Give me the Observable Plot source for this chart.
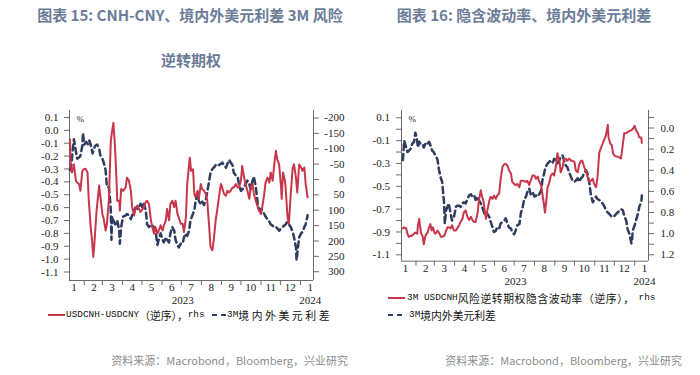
<!DOCTYPE html>
<html><head><meta charset="utf-8">
<script src="https://cdn.jsdelivr.net/npm/d3@7"></script>
<script src="https://cdn.jsdelivr.net/npm/@observablehq/plot@0.6"></script>
<style>
body{margin:0;background:#fff;width:700px;height:375px;position:relative;overflow:hidden;font-family:"Noto Sans CJK SC","Noto Sans",sans-serif}
.title{position:absolute;color:#6b7c98;font-weight:700;font-size:15px;line-height:20px;white-space:nowrap;transform:translateX(-50%)}
.plot{position:absolute}
.plot svg{font-family:"Liberation Serif","Times New Roman",serif;font-size:11px;color:#222;overflow:visible}
.legend{position:absolute;height:16px;line-height:16px;color:#111;white-space:nowrap;display:flex;align-items:center;font-family:"Liberation Mono","Noto Sans CJK SC",monospace;font-size:9.4px}
.legend svg{flex:none}
.cj{font-family:"Noto Sans CJK SC",sans-serif;font-size:10.8px}
.src{position:absolute;font-size:11px;line-height:16px;color:#8c8c8c;white-space:nowrap;transform:translateX(-100%)}
</style></head><body>
<div class="title" style="left:190px;top:5px">图表 15: CNH-CNY、境内外美元利差 3M 风险</div>
<div class="title" style="left:191px;top:50px">逆转期权</div>
<div class="title" style="left:524px;top:5px">图表 16: 隐含波动率、境内外美元利差</div>
<div id="c1" class="plot" style="left:0;top:100px"></div>
<div id="c2" class="plot" style="left:350px;top:100px"></div>

<div class="legend" style="left:48px;top:307px"><svg width="17" height="16"><line x1="0" x2="17" y1="8" y2="8" stroke="#c8364b" stroke-width="2"/></svg><span style="margin-left:1px">USDCNH-USDCNY</span><span class="cj">（逆序），</span><span>rhs</span></div>
<div class="legend" style="left:212px;top:307px"><svg width="14" height="16"><line x1="0" x2="14" y1="8" y2="8" stroke="#2e3d5e" stroke-width="2" stroke-dasharray="5,4"/></svg><span style="margin-left:1px">3M</span><span class="cj" style="letter-spacing:2.6px">境内外美元利差</span></div>

<div class="legend" style="left:388px;top:290px"><svg width="17" height="16"><line x1="0" x2="17" y1="8" y2="8" stroke="#c8364b" stroke-width="2"/></svg><span style="margin-left:2px">3M USDCNH</span><span class="cj" style="letter-spacing:0.6px">风险逆转期权隐含波动率（逆序），</span><span style="margin-left:4px">rhs</span></div>
<div class="legend" style="left:388px;top:307px"><svg width="16" height="16"><line x1="0" x2="16" y1="8" y2="8" stroke="#2e3d5e" stroke-width="2" stroke-dasharray="5,4"/></svg><span style="margin-left:5px">3M</span><span class="cj">境内外美元利差</span></div>

<div class="src" style="left:348px;top:352px">资料来源：Macrobond，Bloomberg，兴业研究</div>
<div class="src" style="left:682px;top:352px">资料来源：Macrobond，Bloomberg，兴业研究</div>

<script>
// ---------- data (x = days since 2023-01-01) ----------
const monthLabels = ["1","2","3","4","5","6","7","8","9","10","11","12","1"];
const yearLabels = ["2023","2024"];

// Chart 15: USDCNH-USDCNY (pips, reversed, rhs)
const cnhCnyPips = [[9,-130],[10,-39],[12,-23],[15,-49],[18,4],[20,10],[23,15],[25,37],[28,-28],[30,-33],[33,-35],[36,-23],[38,69],[41,155],[43,198],[45,252],[47,198],[50,101],[54,20],[56,58],[59,112],[61,128],[64,166],[66,144],[69,69],[72,-125],[74,-157],[76,-184],[78,-125],[80,-39],[82,69],[85,69],[86,101],[88,31],[91,37],[95,26],[97,-6],[100,4],[103,37],[105,90],[108,117],[110,96],[113,85],[118,106],[123,90],[126,74],[128,69],[131,80],[134,133],[136,155],[139,176],[141,155],[144,176],[146,166],[149,149],[152,166],[154,149],[157,133],[159,96],[162,133],[164,80],[167,69],[170,90],[172,69],[175,112],[177,123],[180,144],[183,144],[185,171],[188,123],[190,15],[192,-28],[194,-71],[196,-28],[199,-33],[201,47],[203,58],[206,37],[208,63],[211,15],[213,31],[216,37],[219,47],[221,69],[224,155],[226,219],[229,230],[231,198],[234,133],[237,90],[239,58],[242,15],[244,26],[247,47],[250,53],[252,37],[255,42],[257,37],[260,26],[262,26],[265,15],[268,26],[270,26],[273,4],[275,-44],[278,-6],[280,15],[283,37],[286,63],[288,26],[291,15],[293,47],[296,69],[299,90],[301,101],[304,112],[306,90],[309,47],[311,10],[314,-6],[317,10],[319,-23],[322,4],[324,-39],[327,-93],[329,-66],[332,-49],[335,26],[336,63],[338,-23],[341,4],[342,26],[345,123],[347,144],[350,47],[353,-39],[355,-49],[358,-6],[360,42],[363,-49],[366,-39],[368,-28],[371,-39],[373,15],[376,58]];

// Chart 15: 3M onshore-offshore USD rate spread (%, lhs)
const rateSpread1 = [[9,-0.31],[11,-0.27],[12,-0.22],[14,-0.11],[15,-0.07],[18,-0.16],[20,-0.22],[23,-0.21],[25,-0.20],[28,-0.12],[29,-0.02],[31,-0.11],[34,-0.09],[37,-0.11],[39,-0.08],[42,-0.13],[44,-0.18],[46,-0.14],[48,-0.12],[51,-0.11],[54,-0.14],[56,-0.20],[59,-0.22],[61,-0.25],[64,-0.31],[66,-0.44],[69,-0.44],[71,-0.55],[72,-0.62],[73,-0.85],[74,-0.67],[77,-0.71],[79,-0.73],[82,-0.70],[85,-0.78],[86,-0.88],[88,-0.75],[91,-0.67],[95,-0.66],[97,-0.65],[100,-0.66],[103,-0.69],[105,-0.66],[108,-0.62],[110,-0.60],[113,-0.61],[115,-0.60],[118,-0.57],[121,-0.60],[123,-0.57],[126,-0.62],[128,-0.73],[131,-0.75],[134,-0.73],[136,-0.74],[139,-0.75],[141,-0.78],[144,-0.89],[146,-0.85],[149,-0.80],[152,-0.85],[154,-0.87],[157,-0.83],[159,-0.85],[162,-0.87],[164,-0.80],[167,-0.75],[170,-0.78],[172,-0.85],[175,-0.89],[177,-0.91],[180,-0.88],[183,-0.88],[185,-0.83],[188,-0.80],[190,-0.82],[193,-0.78],[195,-0.70],[198,-0.66],[201,-0.62],[203,-0.55],[206,-0.49],[208,-0.55],[211,-0.57],[213,-0.55],[216,-0.58],[219,-0.53],[221,-0.48],[224,-0.39],[226,-0.33],[229,-0.30],[231,-0.29],[234,-0.27],[237,-0.26],[239,-0.27],[242,-0.26],[244,-0.25],[247,-0.27],[250,-0.29],[252,-0.26],[255,-0.23],[257,-0.25],[260,-0.27],[262,-0.33],[265,-0.35],[268,-0.36],[270,-0.42],[273,-0.47],[275,-0.46],[278,-0.44],[280,-0.42],[283,-0.39],[286,-0.42],[288,-0.46],[291,-0.39],[293,-0.36],[296,-0.44],[299,-0.57],[301,-0.62],[304,-0.61],[306,-0.62],[309,-0.65],[311,-0.67],[314,-0.69],[317,-0.71],[319,-0.73],[322,-0.74],[324,-0.75],[327,-0.75],[329,-0.76],[332,-0.78],[335,-0.76],[337,-0.75],[340,-0.74],[342,-0.73],[345,-0.71],[347,-0.73],[350,-0.75],[353,-0.79],[355,-0.83],[358,-0.91],[359,-1.01],[360,-0.96],[363,-0.83],[366,-0.80],[368,-0.79],[371,-0.75],[373,-0.73],[376,-0.66]];

// Chart 16: 3M USDCNH risk-reversal implied vol (reversed, rhs)
const rrVol = [[11,0.95],[13,0.94],[16,0.95],[18,1.00],[20,1.03],[23,1.02],[25,1.02],[28,1.00],[30,0.99],[33,1.00],[34,0.92],[36,0.86],[37,0.92],[39,1.00],[41,1.02],[43,1.10],[45,1.03],[47,1.00],[49,0.99],[51,0.94],[53,0.91],[55,0.97],[57,0.94],[59,0.99],[61,1.00],[64,0.97],[66,0.99],[69,1.03],[71,1.03],[74,1.02],[76,0.99],[79,0.94],[81,0.94],[84,0.95],[86,0.92],[89,0.97],[92,0.97],[94,0.95],[97,0.92],[99,0.89],[102,0.86],[104,0.80],[107,0.78],[109,0.83],[112,0.87],[115,0.84],[117,0.87],[120,0.89],[122,0.89],[125,0.81],[127,0.69],[130,0.59],[132,0.65],[134,0.69],[136,0.78],[138,0.86],[140,0.78],[143,0.69],[145,0.65],[148,0.67],[150,0.64],[153,0.67],[155,0.64],[158,0.62],[160,0.50],[163,0.37],[166,0.34],[168,0.34],[171,0.36],[173,0.40],[176,0.43],[178,0.51],[181,0.53],[183,0.54],[186,0.53],[189,0.56],[191,0.50],[194,0.50],[196,0.50],[199,0.51],[201,0.50],[204,0.54],[206,0.50],[209,0.45],[212,0.45],[214,0.48],[217,0.46],[219,0.50],[222,0.54],[224,0.62],[227,0.75],[228,0.80],[230,0.69],[232,0.56],[234,0.53],[237,0.45],[240,0.43],[242,0.45],[245,0.35],[247,0.24],[250,0.31],[252,0.42],[255,0.37],[257,0.29],[260,0.29],[262,0.31],[265,0.29],[268,0.31],[270,0.31],[273,0.32],[275,0.40],[278,0.42],[280,0.35],[283,0.31],[285,0.31],[288,0.37],[291,0.42],[293,0.46],[296,0.51],[298,0.50],[301,0.48],[303,0.53],[306,0.56],[308,0.48],[311,0.23],[314,0.18],[316,0.15],[319,0.10],[321,0.07],[324,-0.03],[325,0.09],[328,0.15],[330,0.16],[332,0.24],[334,0.26],[337,0.27],[339,0.27],[342,0.28],[344,0.29],[347,0.15],[349,0.05],[352,0.05],[354,0.04],[357,0.03],[360,0.02],[362,0.01],[365,-0.02],[367,0.02],[370,0.05],[372,0.09],[375,0.09],[376,0.14]];

// Chart 16: 3M onshore-offshore USD rate spread (%, lhs)
const rateSpread2 = [[11,-0.27],[13,-0.10],[16,-0.16],[18,-0.20],[20,-0.19],[23,-0.17],[25,-0.13],[28,-0.11],[30,-0.03],[32,-0.07],[34,-0.16],[36,-0.11],[38,-0.13],[41,-0.13],[43,-0.16],[46,-0.12],[48,-0.13],[51,-0.11],[53,-0.14],[56,-0.19],[58,-0.20],[61,-0.23],[64,-0.27],[66,-0.35],[69,-0.43],[71,-0.46],[74,-0.65],[75,-0.83],[77,-0.71],[79,-0.68],[81,-0.65],[84,-0.74],[86,-0.80],[89,-0.77],[92,-0.68],[94,-0.67],[97,-0.67],[99,-0.68],[102,-0.65],[104,-0.64],[107,-0.65],[109,-0.62],[112,-0.58],[115,-0.57],[117,-0.59],[120,-0.58],[122,-0.62],[125,-0.59],[127,-0.62],[130,-0.65],[132,-0.68],[135,-0.73],[137,-0.76],[140,-0.74],[143,-0.77],[145,-0.81],[148,-0.86],[150,-0.90],[153,-0.89],[155,-0.86],[158,-0.87],[160,-0.83],[163,-0.81],[166,-0.80],[168,-0.78],[171,-0.83],[173,-0.86],[176,-0.87],[178,-0.90],[181,-0.92],[183,-0.89],[186,-0.84],[189,-0.83],[191,-0.74],[194,-0.68],[196,-0.62],[199,-0.59],[201,-0.55],[204,-0.52],[206,-0.57],[209,-0.55],[212,-0.59],[214,-0.58],[217,-0.59],[219,-0.57],[222,-0.54],[224,-0.45],[227,-0.38],[229,-0.33],[232,-0.30],[234,-0.29],[237,-0.27],[240,-0.29],[242,-0.26],[245,-0.27],[247,-0.30],[250,-0.27],[252,-0.24],[255,-0.23],[257,-0.27],[260,-0.32],[262,-0.33],[265,-0.38],[268,-0.42],[270,-0.45],[273,-0.46],[275,-0.45],[278,-0.43],[280,-0.46],[283,-0.43],[285,-0.42],[288,-0.38],[291,-0.36],[293,-0.39],[296,-0.48],[298,-0.57],[301,-0.64],[303,-0.62],[306,-0.59],[308,-0.61],[311,-0.62],[314,-0.64],[316,-0.65],[319,-0.68],[321,-0.71],[324,-0.73],[326,-0.74],[329,-0.76],[331,-0.77],[334,-0.76],[337,-0.74],[339,-0.73],[342,-0.71],[344,-0.70],[347,-0.71],[349,-0.76],[352,-0.80],[354,-0.87],[357,-0.92],[360,-1.00],[361,-0.97],[362,-0.89],[365,-0.84],[367,-0.80],[370,-0.74],[372,-0.68],[375,-0.64],[376,-0.58]];

// axis tick values
const leftTicks1 = [0.1,0.0,-0.1,-0.2,-0.3,-0.4,-0.5,-0.6,-0.7,-0.8,-0.9,-1.0,-1.1];
const rightTicks1 = [-200,-150,-100,-50,0,50,100,150,200,250,300];
const leftTicks2 = [0.1,0.0,-0.1,-0.2,-0.3,-0.4,-0.5,-0.6,-0.7,-0.8,-0.9,-1.0,-1.1];
const leftLabels2 = [0.1,-0.1,-0.3,-0.5,-0.7,-0.9,-1.1];
const rightTicks2 = [-0.1,0.0,0.1,0.2,0.3,0.4,0.5,0.6,0.7,0.8,0.9,1.0,1.1,1.2];
const rightLabels2 = [0.0,0.2,0.4,0.6,0.8,1.0,1.2];

// ---------- helpers ----------
const BASE = Date.UTC(2023, 0, 1);
const toDate = d => new Date(BASE + d * 86400000);
const monthMids = monthLabels.map((_, i) => new Date(Date.UTC(2023, i, 16)));
const monthStarts = d3.range(1, 13).map(i => new Date(Date.UTC(2023, i, 1)));
const yearDates = [new Date(Date.UTC(2023, 6, 3)), new Date(Date.UTC(2024, 0, 16))];
const fmt = v => Math.abs(v) < 1e-9 ? "0.0" : (v < 0 ? "-" : "") + Math.abs(v).toFixed(1);

const RED = "#c8364b", NAVY = "#2e3d5e", AXIS = "#6a6a6a";
const baseStyle = "font-family:'Liberation Serif','Times New Roman',serif;font-size:11px;color:#222;background:transparent;overflow:visible";
const SERIF = "Liberation Serif";

function commonX(xd, monthDy, yearDy) {
  return [
    Plot.ruleX([xd[0], xd[1]], {stroke: AXIS}),
    Plot.axisX(monthStarts, {anchor: "bottom", tickSize: 5, tickFormat: () => "", stroke: AXIS}),
    Plot.text(monthLabels, {x: (d, i) => monthMids[i], text: d => d, frameAnchor: "bottom", dy: monthDy, fontFamily: SERIF, fontSize: 11}),
    Plot.text(yearLabels, {x: (d, i) => yearDates[i], text: d => d, frameAnchor: "bottom", dy: yearDy, fontFamily: SERIF, fontSize: 11}),
    Plot.text(["%"], {frameAnchor: "top-left", dx: 7, dy: 5, fontSize: 9, fontFamily: SERIF})
  ];
}

// ---------- chart 15 ----------
{
  const xd = [toDate(8.2), toDate(385.1)];
  const yd = [-1.166, 0.154];
  const lv = r => 0.0961 - 0.002388 * (r + 200);   // rhs (reversed) -> lhs units
  const p = Plot.plot({
    width: 350, height: 210, marginLeft: 69, marginRight: 37, marginTop: 10, marginBottom: 30,
    x: {type: "utc", domain: xd, axis: null},
    y: {domain: yd, axis: null},
    style: baseStyle,
    marks: [
      ...commonX(xd, 10, 23),
      Plot.ruleY([yd[0]], {stroke: AXIS}),
      Plot.axisY(leftTicks1, {anchor: "left", tickSize: 5, tickFormat: () => "", stroke: AXIS}),
      Plot.text(leftTicks1, {y: d => d, text: fmt, frameAnchor: "left", dx: -11, textAnchor: "end", fontFamily: SERIF, fontSize: 11}),
      Plot.axisY(rightTicks1.map(lv), {anchor: "right", tickSize: 5, tickFormat: () => "", stroke: AXIS}),
      Plot.text(rightTicks1, {y: d => lv(d), text: d => String(d), frameAnchor: "right", dx: 31, textAnchor: "end", fontFamily: SERIF, fontSize: 11}),
      Plot.line(rateSpread1, {x: d => toDate(d[0]), y: d => d[1], stroke: NAVY, strokeWidth: 2.5, strokeDasharray: "6,4"}),
      Plot.line(cnhCnyPips, {x: d => toDate(d[0]), y: d => lv(d[1]), stroke: RED, strokeWidth: 2})
    ]
  });
  document.getElementById("c1").appendChild(p);
}

// ---------- chart 16 ----------
{
  const xd = [toDate(8.9), toDate(386.1)];
  const yd = [-1.156, 0.164];
  const lv = r => 0.0107 - 0.9255 * r;   // rhs (reversed) -> lhs units
  const p = Plot.plot({
    width: 350, height: 200, marginLeft: 51, marginRight: 52, marginTop: 10, marginBottom: 39.3,
    x: {type: "utc", domain: xd, axis: null},
    y: {domain: yd, axis: null},
    style: baseStyle,
    marks: [
      ...commonX(xd, 11, 24),
      Plot.ruleY([yd[0]], {stroke: AXIS}),
      Plot.axisY(leftTicks2, {anchor: "left", tickSize: 5, tickFormat: () => "", stroke: AXIS}),
      Plot.text(leftLabels2, {y: d => d, text: fmt, frameAnchor: "left", dx: -11.5, textAnchor: "end", fontFamily: SERIF, fontSize: 11}),
      Plot.axisY(rightTicks2.map(lv), {anchor: "right", tickSize: 5, tickFormat: () => "", stroke: AXIS}),
      Plot.text(rightLabels2, {y: d => lv(d), text: fmt, frameAnchor: "right", dx: 12, textAnchor: "start", fontFamily: SERIF, fontSize: 11}),
      Plot.line(rateSpread2, {x: d => toDate(d[0]), y: d => d[1], stroke: NAVY, strokeWidth: 2.5, strokeDasharray: "6,4"}),
      Plot.line(rrVol, {x: d => toDate(d[0]), y: d => lv(d[1]), stroke: RED, strokeWidth: 2})
    ]
  });
  document.getElementById("c2").appendChild(p);
}
</script>
</body></html>
